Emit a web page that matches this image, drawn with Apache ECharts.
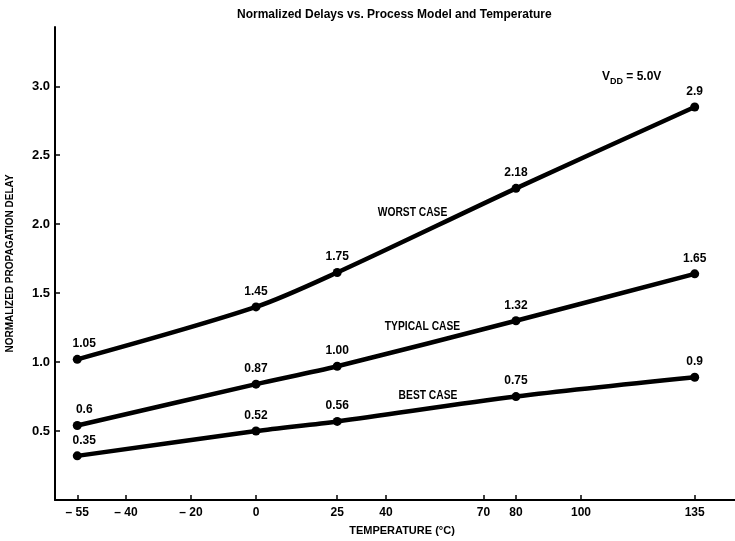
<!DOCTYPE html>
<html>
<head>
<meta charset="utf-8">
<script src="https://cdn.jsdelivr.net/npm/echarts@6/dist/echarts.min.js"></script>
<style>html,body{margin:0;padding:0;background:#fff;}#c{width:735px;height:541px;}</style>
</head>
<body>
<div id="c"></div>
<script>
const temps = [-55, 0, 25, 80, 135];
const worst = [1.02, 1.40, 1.65, 2.26, 2.85];
const typical = [0.54, 0.84, 0.97, 1.30, 1.64];
const best = [0.32, 0.50, 0.57, 0.75, 0.89];
const worstLabels = ['1.05', '1.45', '1.75', '2.18', '2.9'];
const typicalLabels = ['0.6', '0.87', '1.00', '1.32', '1.65'];
const bestLabels = ['0.35', '0.52', '0.56', '0.75', '0.9'];
const xTicks = [-55, -40, -20, 0, 25, 40, 70, 80, 100, 135];
const yTicks = [0.5, 1.0, 1.5, 2.0, 2.5, 3.0];
const seriesNames = ['WORST CASE', 'TYPICAL CASE', 'BEST CASE'];
const titleText = 'Normalized Delays vs. Process Model and Temperature';

const FONT = "'Liberation Sans', Arial, sans-serif";

function mkSeries(name, vals, labels) {
  return {
    name: name,
    type: 'line',
    smooth: 0.3,
    data: temps.map((t, i) => [t, vals[i]]),
    symbol: 'circle',
    symbolSize: 9,
    lineStyle: { color: '#000', width: 4.5 },
    itemStyle: { color: '#000' },
    label: {
      show: true,
      position: 'top',
      distance: 5,
      color: '#000',
      fontFamily: FONT,
      fontWeight: 'bold',
      fontSize: 12,
      formatter: p => labels[p.dataIndex]
    },
    labelLayout: p => (p.dataIndex === 0 ? { dx: 7 } : {}),
    emphasis: { disabled: true },
    animation: false
  };
}

function nameText(txt, cx, cy) {
  return {
    type: 'text', x: cx, y: cy, scaleX: 0.79,
    style: { text: txt, fill: '#000', font: "bold 13px " + FONT, textAlign: 'center', textVerticalAlign: 'middle' }
  };
}

const chart = echarts.init(document.getElementById('c'), null, { renderer: 'canvas' });
chart.setOption({
  backgroundColor: '#fff',
  animation: false,
  title: {
    text: titleText,
    left: 237,
    top: 9,
    padding: 0,
    textStyle: { fontFamily: FONT, fontWeight: 'bold', fontSize: 12, color: '#000' }
  },
  grid: { left: 55, right: 0, top: 27, bottom: 41, containLabel: false, outerBoundsMode: 'none' },
  xAxis: {
    type: 'value',
    min: -61.85,
    max: 147.4,
    name: 'TEMPERATURE (°C)',
    nameLocation: 'middle',
    nameGap: 25,
    nameTextStyle: { fontFamily: FONT, fontWeight: 'bold', fontSize: 11, color: '#000', padding: [0, 0, 0, 14] },
    splitLine: { show: false },
    axisLine: { onZero: false, lineStyle: { color: '#000', width: 2 } },
    axisTick: { show: true, inside: true, length: 5, lineStyle: { color: '#000', width: 1.5 }, customValues: xTicks },
    axisLabel: {
      customValues: xTicks,
      margin: 7,
      color: '#000',
      fontFamily: FONT,
      fontWeight: 'bold',
      fontSize: 12,
      formatter: v => (v < 0 ? '\u2013 ' + Math.abs(v) : String(v))
    }
  },
  yAxis: {
    type: 'value',
    min: 0,
    max: 3.43,
    name: 'NORMALIZED PROPAGATION DELAY',
    nameLocation: 'middle',
    nameRotate: 90,
    nameGap: 40,
    nameTextStyle: { fontFamily: FONT, fontWeight: 'bold', fontSize: 10, color: '#000' },
    splitLine: { show: false },
    axisLine: { show: true, onZero: false, lineStyle: { color: '#000', width: 2 } },
    axisTick: { show: true, inside: true, length: 5, lineStyle: { color: '#000', width: 1.5 }, customValues: yTicks },
    axisLabel: {
      customValues: yTicks,
      margin: 5,
      color: '#000',
      fontFamily: FONT,
      fontWeight: 'bold',
      fontSize: 13,
      formatter: v => v.toFixed(1)
    }
  },
  graphic: [
    nameText(seriesNames[0], 412.5, 212),
    nameText(seriesNames[1], 422.5, 326),
    nameText(seriesNames[2], 428, 395),
    {
      type: 'text', left: 602, top: 71,
      style: {
        text: '{v|V}{s|DD}{v| = 5.0V}',
        rich: {
          v: { fontFamily: FONT, fontWeight: 'bold', fontSize: 12, fill: '#000', lineHeight: 16, verticalAlign: 'top' },
          s: { fontFamily: FONT, fontWeight: 'bold', fontSize: 9, fill: '#000', lineHeight: 16, padding: [6, 0, 0, 0], verticalAlign: 'top' }
        }
      }
    }
  ],
  series: [
    mkSeries(seriesNames[0], worst, worstLabels),
    mkSeries(seriesNames[1], typical, typicalLabels),
    mkSeries(seriesNames[2], best, bestLabels)
  ]
});
</script>
</body>
</html>
